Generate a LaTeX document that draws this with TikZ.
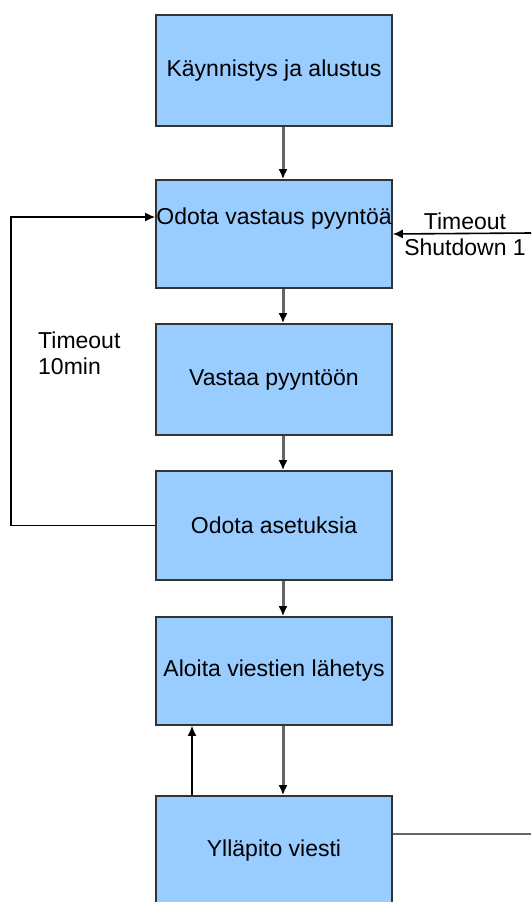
\documentclass[tikz,border=0pt]{standalone}
\usepackage{fontspec}
\setmainfont{Liberation Sans}
\usetikzlibrary{arrows.meta}
\definecolor{boxblue}{HTML}{99CCFF}
\tikzset{
  box/.style={draw=black!80, line width=1.6pt, fill=boxblue, minimum width=236pt,
    minimum height=110pt, inner sep=0pt, font=\fontsize{23}{26}\selectfont},
  txt/.style={font=\fontsize{23}{26}\selectfont, inner sep=0pt, align=left},
  flow/.style={draw=black!60, line width=3pt, -{Latex[length=10pt,width=9pt,color=black]}},
  back/.style={draw=black, line width=1.6pt, -{Latex[length=10pt,width=9pt]}}
}

\begin{document}
\begin{tikzpicture}[x=1pt,y=1pt]
  \clip (0,0) rectangle (531,-902);
  % states
  \node[box,minimum height=111pt] (start) at (274,-70.5) {Käynnistys ja alustus};
  \node[box,minimum height=108pt,
    label={[txt,yshift=15pt]center:Odota vastaus pyyntöä}] (wait) at (274,-234) {};
  \node[box,minimum height=111pt] (reply) at (274,-379.5) {Vastaa pyyntöön};
  \node[box,minimum height=109pt] (settings) at (274,-525.5) {Odota asetuksia};
  \node[box,minimum height=108pt] (send) at (274,-671) {Aloita viestien lähetys};
  \node[box] (keepalive) at (274,-851) {Ylläpito viesti};
  % main flow
  \foreach \a/\b in {start/wait,wait/reply,reply/settings,settings/send,send/keepalive}
    \draw[flow] ([xshift=9pt]\a.south) -- ([xshift=9pt]\b.north);
  \draw[back] ([xshift=-82pt]keepalive.north) -- ([xshift=-82pt]send.south);
  % timeouts
  \draw[back] (settings.west) -| ([xshift=-144pt,yshift=17pt]wait.west)
    -- ([yshift=17pt]wait.west);
  \node[txt,anchor=north west] (loopnote) at (38,-331.7) {Timeout\\10min};
  \coordinate (outside) at (531,-233);
  \draw[back] (outside) -- (wait.east);
  \node[txt,anchor=north,align=center] (shutnote) at (465,-213) {Timeout\\Shutdown 1};
  \coordinate (exit) at (531,-834);
  \draw[draw=black!60,line width=2.4pt] (keepalive.east |- exit) -- (exit);
\end{tikzpicture}
\end{document}
